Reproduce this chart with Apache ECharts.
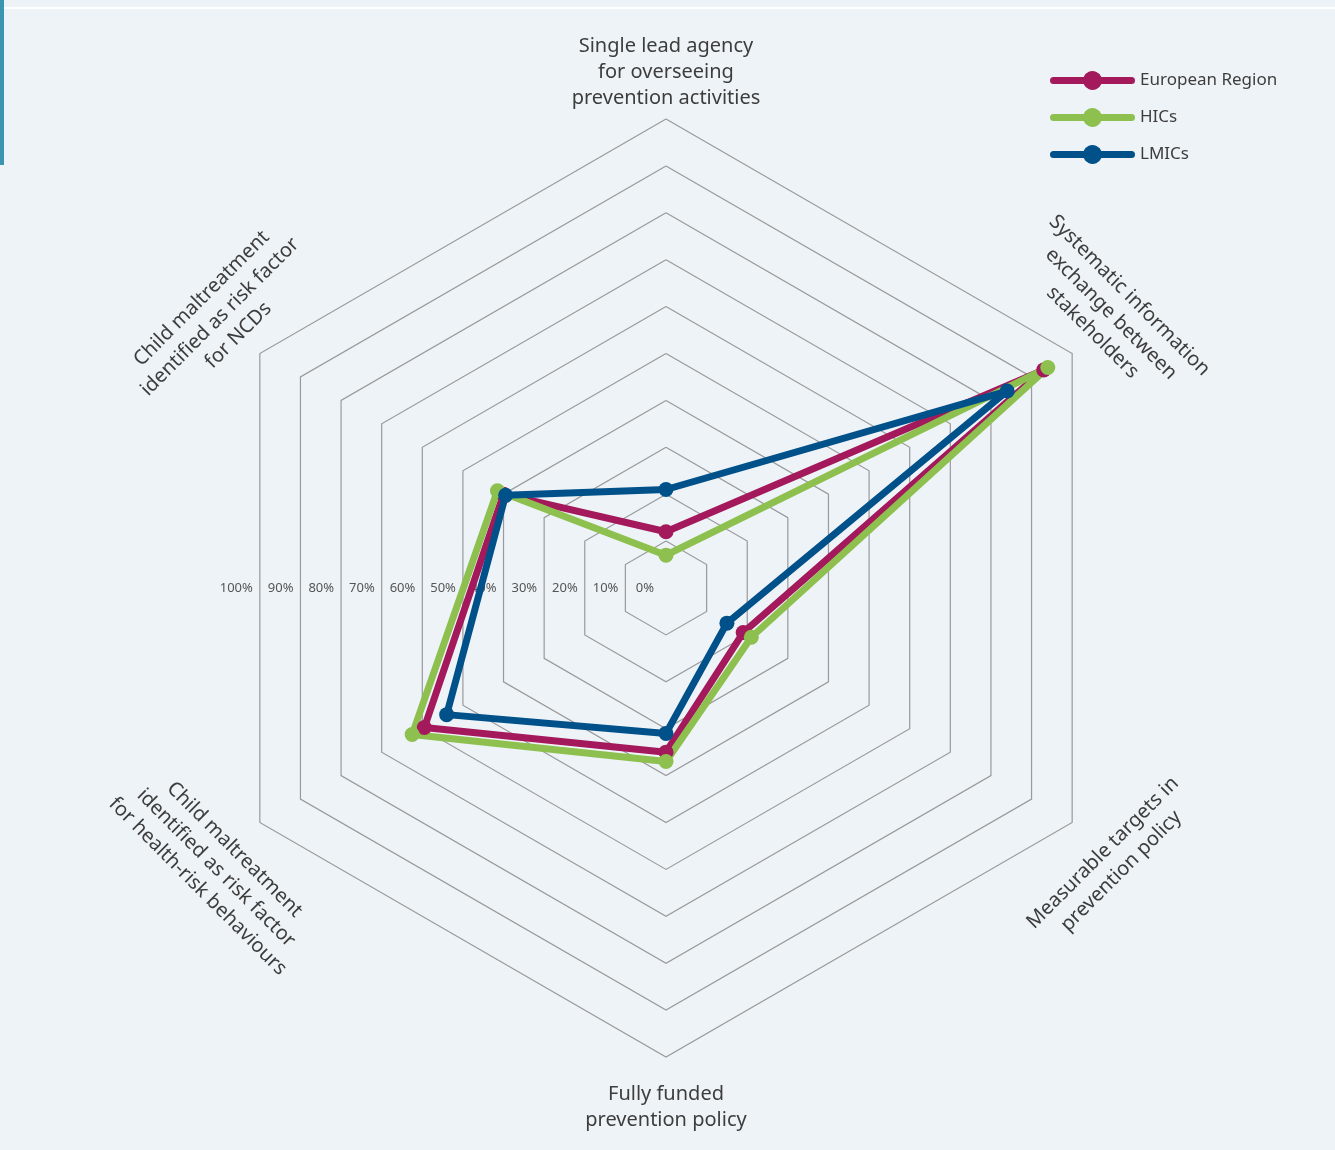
<!DOCTYPE html>
<html><head><meta charset="utf-8">
<script src="https://cdn.jsdelivr.net/npm/echarts@6/dist/echarts.min.js"></script>
<style>html,body{margin:0;padding:0;background:#eef3f7}#c{width:1335px;height:1150px}</style>
</head><body><div id="c"></div>
<script>
// Indicators in ECharts radar order (counter-clockwise from top)
const indicators = [
  'Single lead agency\nfor overseeing\nprevention activities',
  'Child maltreatment\nidentified as risk factor\nfor NCDs',
  'Child maltreatment\nidentified as risk factor\nfor health-risk behaviours',
  'Fully funded\nprevention policy',
  'Measurable targets in\nprevention policy',
  'Systematic information\nexchange between\nstakeholders'
];
const seriesNames = ['European Region', 'HICs', 'LMICs'];
const european = [12, 40, 59.5, 35, 19, 93];
const hics     = [7, 41.5, 62.5, 37, 21, 94];
const lmics    = [21, 39.5, 54, 31, 15, 84];
const tickValues = [0, 10, 20, 30, 40, 50, 60, 70, 80, 90, 100];
const tickLabels = ['0%', '10%', '20%', '30%', '40%', '50%', '60%', '70%', '80%', '90%', '100%'];

const colors = ['#a3195b', '#8dc04f', '#00508a'];
const CX = 666, CY = 588, R = 469;
const FONT = '"Noto Sans", "Open Sans", sans-serif';

// layout of axis names (offset from centre, rotation)
const nameLayout = [
  { dx: 0, dy: -516, rot: 0 },
  { dx: -446, dy: -271, rot: Math.PI / 4 },
  { dx: -450, dy: 280, rot: -Math.PI / 4 },
  { dx: 0, dy: 519, rot: 0 },
  { dx: 446, dy: 274, rot: Math.PI / 4 },
  { dx: 445, dy: -274, rot: -Math.PI / 4 }
];

const graphics = [
  { type: 'rect', left: 0, top: 0, shape: { width: 4, height: 165 }, style: { fill: '#3a96b0' }, silent: true },
  { type: 'rect', left: 4, top: 7, shape: { width: 1331, height: 2 }, style: { fill: '#ffffff' }, silent: true }
];
indicators.forEach((name, i) => {
  const L = nameLayout[i];
  graphics.push({
    type: 'text', x: CX + L.dx, y: CY + L.dy, rotation: L.rot, silent: true,
    style: { text: name, fontSize: 20, fontFamily: FONT, fill: '#3d3d3d', lineHeight: 26,
      align: 'center', verticalAlign: 'middle', textAlign: 'center', textVerticalAlign: 'middle' }
  });
});
tickValues.forEach((v, i) => {
  graphics.push({
    type: 'text', x: CX - v / 100 * R * Math.cos(Math.PI / 6) - (v === 0 ? 12 : 7), y: CY, silent: true,
    style: { text: tickLabels[i], fontSize: 13, fontFamily: FONT, fill: '#555555',
      align: 'right', verticalAlign: 'middle', textAlign: 'right', textVerticalAlign: 'middle' }
  });
});

const legendIcon = 'path://M3.5,6.5 L33.67,6.5 A9.5,9.5 0 0 1 51.33,6.5 L81.5,6.5 A3.5,3.5 0 0 1 81.5,13.5 L51.33,13.5 A9.5,9.5 0 0 1 33.67,13.5 L3.5,13.5 A3.5,3.5 0 0 1 3.5,6.5 Z';

const values = [european, hics, lmics];
const chart = echarts.init(document.getElementById('c'), null, { renderer: 'canvas' });
chart.setOption({
  backgroundColor: '#eef3f7',
  animation: false,
  legend: {
    data: seriesNames, orient: 'vertical', left: 1045, top: 66,
    itemWidth: 85, itemHeight: 20, itemGap: 18, icon: legendIcon,
    textStyle: { fontSize: 17, color: '#3d3d3d', fontFamily: FONT },
    selectedMode: false
  },
  radar: {
    center: [CX, CY], radius: R, startAngle: 90, shape: 'polygon', splitNumber: 10,
    indicator: indicators.map(n => ({ name: n, min: 0, max: 100 })),
    axisName: { show: false },
    splitLine: { lineStyle: { color: '#9a9a9a', width: 1.2 } },
    splitArea: { show: false },
    axisLine: { show: false },
    axisTick: { show: false },
    axisLabel: { show: false }
  },
  graphic: graphics,
  series: [{
    type: 'radar',
    symbol: 'circle', symbolSize: 15,
    emphasis: { disabled: true },
    data: seriesNames.map((n, i) => ({
      name: n, value: values[i],
      lineStyle: { color: colors[i], width: 7, join: 'round' },
      itemStyle: { color: colors[i] }
    }))
  }]
});
</script>
</body></html>
